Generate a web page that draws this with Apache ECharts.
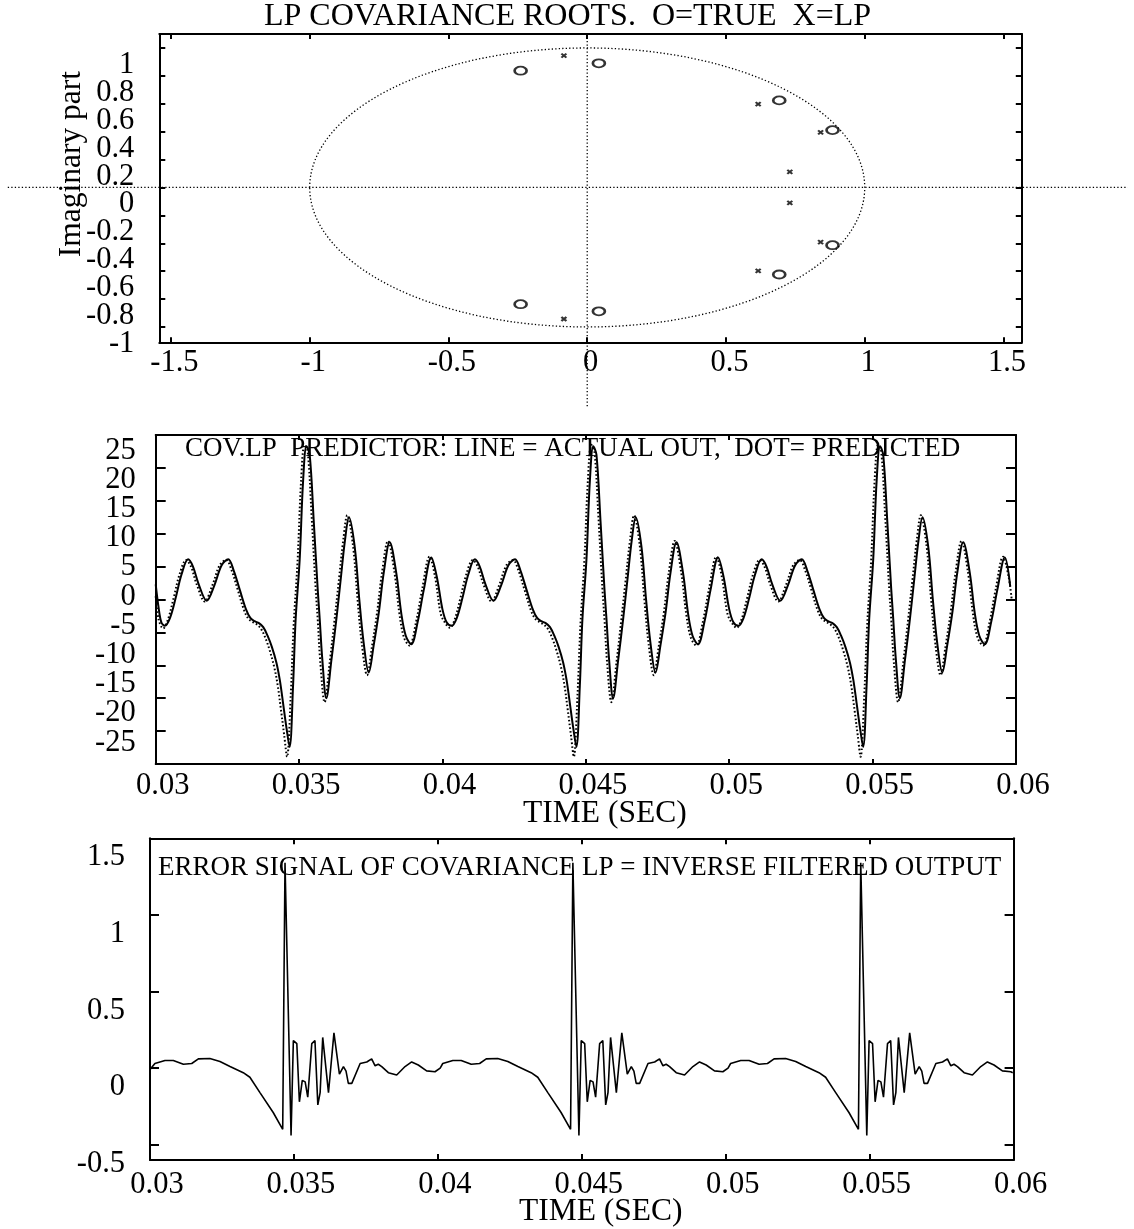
<!DOCTYPE html>
<html><head><meta charset="utf-8">
<script src="https://cdn.jsdelivr.net/npm/echarts@6/dist/echarts.min.js"></script>
<style>html,body{margin:0;padding:0;background:#fff}#c{width:1134px;height:1229px}</style>
</head><body><div id="c"></div>
<script>
// ---------- data ----------
// Panel 1: roots in the complex plane
const trueRoots = [[-0.240, 0.837], [0.042, 0.890], [0.692, 0.624], [0.884, 0.411],
                   [0.884, -0.414], [0.692, -0.624], [0.042, -0.888], [-0.240, -0.837]];
const lpRoots = [[-0.084, 0.945], [0.616, 0.598], [0.841, 0.395], [0.730, 0.112],
                 [0.730, -0.110], [0.841, -0.392], [0.616, -0.598], [-0.084, -0.943]];
const unitCircle = [[0, 0, 1]];                       // centre x, centre y, radius
const zeroLines = [[-2.088, 0, 1.948, 0], [0, 1.10, 0, -1.584]];   // x1, y1, x2, y2
const rootXTicks = [-1.5, -1, -0.5, 0, 0.5, 1, 1.5];
const rootXLabels = ['-1.5', '-1', '-0.5', '0', '0.5', '1', '1.5'];
const rootYTicks = [-1, -0.8, -0.6, -0.4, -0.2, 0, 0.2, 0.4, 0.6, 0.8, 1];
const rootYLabels = ['-1', '-0.8', '-0.6', '-0.4', '-0.2', '0', '0.2', '0.4', '0.6', '0.8', '1'];

// Panel 2: actual output (line) and predicted (dots)
const actualOut = [
 [0.03000, 2.3], [0.03010, -1.2], [0.03020, -3.5], [0.03032, -4.0], [0.03050, -2.8], [0.03070, 0.3], [0.03090, 3.8], [0.03113, 6.1], [0.03130, 5.0], [0.03150, 2.3], [0.03178, -0.2], [0.03205, 2.2], [0.03230, 5.2], [0.03253, 6.1], [0.03272, 4.4], [0.03293, 1.5], [0.03315, -1.5], [0.03330, -2.8], [0.03345, -3.3], [0.03360, -3.6], [0.03375, -4.2], [0.03390, -5.5], [0.03405, -7.2], [0.03421, -9.6], [0.03433, -12.3], [0.03444, -15.7], [0.03456, -19.5], [0.03467, -22.4], [0.03479, -13.1], [0.03488, -3.0], [0.03502, 6.0], [0.03514, 18.0], [0.03526, 23.3], [0.03537, 22.0], [0.03551, 12.0], [0.03565, 1.5], [0.03572, -3.0], [0.03581, -9.1], [0.03595, -15.0], [0.03613, -9.1], [0.03630, -3.0], [0.03645, 3.0], [0.03660, 9.0], [0.03674, 12.5], [0.03694, 8.0], [0.03710, 0.0], [0.03725, -6.5], [0.03743, -11.1], [0.03760, -7.0], [0.03778, -2.0], [0.03795, 4.0], [0.03816, 8.7], [0.03839, 4.0], [0.03856, -2.0], [0.03872, -5.5], [0.03891, -6.8], [0.03914, -3.3], [0.03935, 1.5], [0.03961, 6.4], [0.03980, 3.5],
 [0.04000, -1.5], [0.04015, -3.5], [0.04032, -4.0], [0.04050, -2.8], [0.04070, 0.3], [0.04090, 3.8], [0.04113, 6.1], [0.04130, 5.0], [0.04150, 2.3], [0.04178, -0.2], [0.04205, 2.2], [0.04230, 5.2], [0.04253, 6.1], [0.04272, 4.4], [0.04293, 1.5], [0.04315, -1.5], [0.04330, -2.8], [0.04345, -3.3], [0.04360, -3.6], [0.04375, -4.2], [0.04390, -5.5], [0.04405, -7.2], [0.04421, -9.6], [0.04433, -12.3], [0.04444, -15.7], [0.04456, -19.5], [0.04467, -22.4], [0.04479, -13.1], [0.04488, -3.0], [0.04502, 6.0], [0.04514, 18.0], [0.04526, 23.3], [0.04537, 22.0], [0.04551, 12.0], [0.04565, 1.5], [0.04572, -3.0], [0.04581, -9.1], [0.04595, -15.0], [0.04613, -9.1], [0.04630, -3.0], [0.04645, 3.0], [0.04660, 9.0], [0.04674, 12.5], [0.04694, 8.0], [0.04710, 0.0], [0.04725, -6.5], [0.04743, -11.1], [0.04760, -7.0], [0.04778, -2.0], [0.04795, 4.0], [0.04816, 8.7], [0.04839, 4.0], [0.04856, -2.0], [0.04872, -5.5], [0.04891, -6.8], [0.04914, -3.3], [0.04935, 1.5], [0.04961, 6.4], [0.04980, 3.5],
 [0.05000, -1.5], [0.05015, -3.5], [0.05032, -4.0], [0.05050, -2.8], [0.05070, 0.3], [0.05090, 3.8], [0.05113, 6.1], [0.05130, 5.0], [0.05150, 2.3], [0.05178, -0.2], [0.05205, 2.2], [0.05230, 5.2], [0.05253, 6.1], [0.05272, 4.4], [0.05293, 1.5], [0.05315, -1.5], [0.05330, -2.8], [0.05345, -3.3], [0.05360, -3.6], [0.05375, -4.2], [0.05390, -5.5], [0.05405, -7.2], [0.05421, -9.6], [0.05433, -12.3], [0.05444, -15.7], [0.05456, -19.5], [0.05467, -22.4], [0.05479, -13.1], [0.05488, -3.0], [0.05502, 6.0], [0.05514, 18.0], [0.05526, 23.3], [0.05537, 22.0], [0.05551, 12.0], [0.05565, 1.5], [0.05572, -3.0], [0.05581, -9.1], [0.05595, -15.0], [0.05613, -9.1], [0.05630, -3.0], [0.05645, 3.0], [0.05660, 9.0], [0.05674, 12.5], [0.05694, 8.0], [0.05710, 0.0], [0.05725, -6.5], [0.05743, -11.1], [0.05760, -7.0], [0.05778, -2.0], [0.05795, 4.0], [0.05816, 8.7], [0.05839, 4.0], [0.05856, -2.0], [0.05872, -5.5], [0.05891, -6.8], [0.05914, -3.3], [0.05935, 1.5], [0.05961, 6.4], [0.05980, 2.0]
];
const predicted = [
 [0.03000, 0.5], [0.03010, -3.0], [0.03026, -4.4], [0.03043, -3.0], [0.03063, 0.3], [0.03083, 3.8], [0.03106, 6.0], [0.03123, 5.0], [0.03143, 2.3], [0.03171, -0.3], [0.03198, 2.2], [0.03223, 5.2], [0.03246, 6.0], [0.03265, 4.4], [0.03286, 1.5], [0.03308, -1.6], [0.03323, -2.9], [0.03338, -3.4], [0.03353, -3.8], [0.03368, -4.5], [0.03383, -5.9], [0.03398, -7.8], [0.03414, -10.4], [0.03426, -13.2], [0.03437, -16.8], [0.03448, -20.6], [0.03458, -23.9], [0.03471, -14.5], [0.03481, -4.0], [0.03495, 6.0], [0.03507, 18.0], [0.03519, 23.5], [0.03530, 22.5], [0.03544, 12.5], [0.03558, 1.5], [0.03565, -3.0], [0.03574, -9.5], [0.03589, -15.6], [0.03607, -9.5], [0.03624, -3.0], [0.03639, 3.0], [0.03654, 9.0], [0.03668, 12.8], [0.03688, 8.2], [0.03704, 0.0], [0.03719, -6.8], [0.03737, -11.5], [0.03754, -7.2], [0.03772, -2.0], [0.03789, 4.0], [0.03810, 8.9], [0.03833, 4.0], [0.03850, -2.2], [0.03866, -5.8], [0.03885, -7.0], [0.03908, -3.4], [0.03929, 1.5], [0.03955, 6.5], [0.03974, 3.5],
 [0.03994, -2.2], [0.04010, -3.6], [0.04026, -4.3], [0.04043, -3.0], [0.04063, 0.3], [0.04083, 3.8], [0.04106, 6.0], [0.04123, 5.0], [0.04143, 2.3], [0.04171, -0.3], [0.04198, 2.2], [0.04223, 5.2], [0.04246, 6.0], [0.04265, 4.4], [0.04286, 1.5], [0.04308, -1.6], [0.04323, -2.9], [0.04338, -3.4], [0.04353, -3.8], [0.04368, -4.5], [0.04383, -5.9], [0.04398, -7.8], [0.04414, -10.4], [0.04426, -13.2], [0.04437, -16.8], [0.04448, -20.6], [0.04458, -23.9], [0.04471, -14.5], [0.04481, -4.0], [0.04495, 6.0], [0.04507, 18.0], [0.04519, 23.5], [0.04530, 22.5], [0.04544, 12.5], [0.04558, 1.5], [0.04565, -3.0], [0.04574, -9.5], [0.04589, -15.6], [0.04607, -9.5], [0.04624, -3.0], [0.04639, 3.0], [0.04654, 9.0], [0.04668, 12.8], [0.04688, 8.2], [0.04704, 0.0], [0.04719, -6.8], [0.04737, -11.5], [0.04754, -7.2], [0.04772, -2.0], [0.04789, 4.0], [0.04810, 8.9], [0.04833, 4.0], [0.04850, -2.2], [0.04866, -5.8], [0.04885, -7.0], [0.04908, -3.4], [0.04929, 1.5], [0.04955, 6.5], [0.04974, 3.5],
 [0.04994, -2.2], [0.05010, -3.6], [0.05026, -4.3], [0.05043, -3.0], [0.05063, 0.3], [0.05083, 3.8], [0.05106, 6.0], [0.05123, 5.0], [0.05143, 2.3], [0.05171, -0.3], [0.05198, 2.2], [0.05223, 5.2], [0.05246, 6.0], [0.05265, 4.4], [0.05286, 1.5], [0.05308, -1.6], [0.05323, -2.9], [0.05338, -3.4], [0.05353, -3.8], [0.05368, -4.5], [0.05383, -5.9], [0.05398, -7.8], [0.05414, -10.4], [0.05426, -13.2], [0.05437, -16.8], [0.05448, -20.6], [0.05458, -23.9], [0.05471, -14.5], [0.05481, -4.0], [0.05495, 6.0], [0.05507, 18.0], [0.05519, 23.5], [0.05530, 22.5], [0.05544, 12.5], [0.05558, 1.5], [0.05565, -3.0], [0.05574, -9.5], [0.05589, -15.6], [0.05607, -9.5], [0.05624, -3.0], [0.05639, 3.0], [0.05654, 9.0], [0.05668, 12.8], [0.05688, 8.2], [0.05704, 0.0], [0.05719, -6.8], [0.05737, -11.5], [0.05754, -7.2], [0.05772, -2.0], [0.05789, 4.0], [0.05810, 8.9], [0.05833, 4.0], [0.05850, -2.2], [0.05866, -5.8], [0.05885, -7.0], [0.05908, -3.4], [0.05929, 1.5], [0.05955, 6.5], [0.05974, 3.5], [0.05985, 0.0]
];
const timeTicks = [0.03, 0.035, 0.04, 0.045, 0.05, 0.055, 0.06];
const timeLabels = ['0.03', '0.035', '0.04', '0.045', '0.05', '0.055', '0.06'];
const outYTicks = [-25, -20, -15, -10, -5, 0, 5, 10, 15, 20, 25];
const outYLabels = ['-25', '-20', '-15', '-10', '-5', '0', '5', '10', '15', '20', '25'];

// Panel 3: error signal
const errorSignal = [
 [0.03000, -0.01], [0.03017, 0.03], [0.03052, 0.05], [0.03081, 0.05], [0.03116, 0.025], [0.03145, 0.03], [0.03168, 0.06], [0.03208, 0.063], [0.03243, 0.043], [0.03278, 0.01], [0.03324, -0.03], [0.03347, -0.06], [0.03382, -0.16], [0.03428, -0.29], [0.03461, -0.40], [0.03469, 1.34], [0.03490, -0.44], [0.03498, 0.18], [0.03510, 0.16], [0.03519, -0.22], [0.03529, -0.08], [0.03539, -0.09], [0.03548, -0.19], [0.03562, 0.16], [0.03573, 0.18], [0.03583, -0.24], [0.03591, -0.16], [0.03600, 0.20], [0.03620, -0.16], [0.03639, 0.23], [0.03658, -0.04], [0.03672, 0.01], [0.03681, -0.02], [0.03689, -0.10], [0.03701, -0.10], [0.03730, 0.03], [0.03753, 0.04], [0.03770, 0.06], [0.03782, 0.015], [0.03793, 0.025], [0.03805, 0.01], [0.03828, -0.03], [0.03857, -0.045], [0.03886, 0.01], [0.03909, 0.04], [0.03932, 0.02], [0.03961, -0.018], [0.03990, -0.024],
 [0.04008, 0.0], [0.04017, 0.03], [0.04052, 0.05], [0.04081, 0.05], [0.04116, 0.025], [0.04145, 0.03], [0.04168, 0.06], [0.04208, 0.063], [0.04243, 0.043], [0.04278, 0.01], [0.04324, -0.03], [0.04347, -0.06], [0.04382, -0.16], [0.04428, -0.29], [0.04461, -0.40], [0.04469, 1.34], [0.04490, -0.44], [0.04498, 0.18], [0.04510, 0.16], [0.04519, -0.22], [0.04529, -0.08], [0.04539, -0.09], [0.04548, -0.19], [0.04562, 0.16], [0.04573, 0.18], [0.04583, -0.24], [0.04591, -0.16], [0.04600, 0.20], [0.04620, -0.16], [0.04639, 0.23], [0.04658, -0.04], [0.04672, 0.01], [0.04681, -0.02], [0.04689, -0.10], [0.04701, -0.10], [0.04730, 0.03], [0.04753, 0.04], [0.04770, 0.06], [0.04782, 0.015], [0.04793, 0.025], [0.04805, 0.01], [0.04828, -0.03], [0.04857, -0.045], [0.04886, 0.01], [0.04909, 0.04], [0.04932, 0.02], [0.04961, -0.018], [0.04990, -0.024],
 [0.05008, 0.0], [0.05017, 0.03], [0.05052, 0.05], [0.05081, 0.05], [0.05116, 0.025], [0.05145, 0.03], [0.05168, 0.06], [0.05208, 0.063], [0.05243, 0.043], [0.05278, 0.01], [0.05324, -0.03], [0.05347, -0.06], [0.05382, -0.16], [0.05428, -0.29], [0.05461, -0.40], [0.05469, 1.34], [0.05490, -0.44], [0.05498, 0.18], [0.05510, 0.16], [0.05519, -0.22], [0.05529, -0.08], [0.05539, -0.09], [0.05548, -0.19], [0.05562, 0.16], [0.05573, 0.18], [0.05583, -0.24], [0.05591, -0.16], [0.05600, 0.20], [0.05620, -0.16], [0.05639, 0.23], [0.05658, -0.04], [0.05672, 0.01], [0.05681, -0.02], [0.05689, -0.10], [0.05701, -0.10], [0.05730, 0.03], [0.05753, 0.04], [0.05770, 0.06], [0.05782, 0.015], [0.05793, 0.025], [0.05805, 0.01], [0.05828, -0.03], [0.05857, -0.045], [0.05886, 0.01], [0.05909, 0.04], [0.05932, 0.02], [0.05961, -0.018], [0.05990, -0.024], [0.05997, -0.03]
];
const errYTicks = [-0.5, 0, 0.5, 1];
const errYLabelVals = [-0.5, 0, 0.5, 1, 1.5];
const errYLabels = ['-0.5', '0', '0.5', '1', '1.5'];

// ---------- styling ----------
const INK = '#000';
const FONT = 'Liberation Serif';
const TICKFS = 30.5;
function fmt(vals, labels) {
  return function (v) {
    let best = 0, d = Infinity;
    vals.forEach((t, i) => { const e = Math.abs(t - v); if (e < d) { d = e; best = i; } });
    return labels[best];
  };
}
// alternate labels go on two label axes so that neighbours never collide
const evens = a => a.filter((_, i) => i % 2 === 0);
const odds = a => a.filter((_, i) => i % 2 === 1);
const lineSt = { color: INK, width: 2 };
function frameAxis(gridIndex, position, min, max, ticks, tickLen, extra) {
  return Object.assign({
    type: 'value', gridIndex, position, min, max,
    nameMoveOverlap: false,
    axisLine: { show: true, onZero: false, lineStyle: lineSt },
    axisTick: { show: true, inside: true, length: tickLen, customValues: ticks, lineStyle: lineSt },
    axisLabel: { show: false },
    splitLine: { show: false }
  }, extra || {});
}
function labelStyle(vals, allVals, labels, extra) {
  return Object.assign({
    show: true, customValues: vals, formatter: fmt(allVals, labels),
    showMinLabel: true, showMaxLabel: true, hideOverlap: false,
    color: INK, fontFamily: FONT, fontSize: TICKFS
  }, extra);
}
function labelOnlyAxis(gridIndex, min, max, vals, allVals, labels, extra) {
  return { type: 'value', gridIndex, position: 'left', min, max, nameMoveOverlap: false,
    axisLine: { show: false }, axisTick: { show: false }, splitLine: { show: false },
    axisLabel: labelStyle(vals, allVals, labels, extra) };
}
const nameStyle = { color: INK, fontFamily: FONT, fontSize: 31.5 };
const dotted = [1.3, 2.2];

const G0 = { left: 159.3, top: 34, width: 862.5, height: 308.3 };
const G1 = { left: 155.7, top: 435, width: 860.3, height: 329 };
const G2 = { left: 150, top: 838.3, width: 863.6, height: 322.7 };
const G3 = { left: 155.7, top: 450.5, width: 860.3, height: 292 };

const rootLab = { margin: 25, verticalAlign: 'top', lineHeight: 22, padding: [6, 0, 0, 0] };
const outLab = { margin: 20, verticalAlign: 'middle' };

const option = {
  backgroundColor: '#fff',
  animation: false,
  textStyle: { fontFamily: FONT },
  title: [
    { text: 'LP COVARIANCE ROOTS.  O=TRUE  X=LP', left: 264, top: 1, padding: 0,
      textStyle: { color: INK, fontFamily: FONT, fontSize: 32, fontWeight: 'normal' } },
    { text: 'COV.LP  PREDICTOR: LINE = ACTUAL OUT,  DOT= PREDICTED', left: 185, top: 435, padding: 0,
      textStyle: { color: INK, fontFamily: FONT, fontSize: 27, fontWeight: 'normal' } },
    { text: 'ERROR SIGNAL OF COVARIANCE LP = INVERSE FILTERED OUTPUT', left: 158, top: 854, padding: 0,
      textStyle: { color: INK, fontFamily: FONT, fontSize: 27, fontWeight: 'normal' } }
  ],
  grid: [G0, G1, G2, G3],
  xAxis: [
    frameAxis(0, 'bottom', -1.542, 1.566, rootXTicks, 5,
      { axisLabel: labelStyle(rootXTicks, rootXTicks, rootXLabels, { margin: 21, verticalAlign: 'middle', padding: [0, 0, 0, 7] }) }),
    frameAxis(0, 'top', -1.542, 1.566, rootXTicks, 5),
    frameAxis(1, 'bottom', 0.03, 0.06, timeTicks, 5,
      { axisLabel: labelStyle(timeTicks, timeTicks, timeLabels, { margin: 22, verticalAlign: 'middle', padding: [0, 0, 0, 14] }),
        name: 'TIME (SEC)', nameLocation: 'middle', nameGap: 34,
        nameTextStyle: Object.assign({ padding: [0, 0, 0, 38] }, nameStyle) }),
    frameAxis(1, 'top', 0.03, 0.06, timeTicks, 5),
    frameAxis(2, 'bottom', 0.03, 0.06, timeTicks, 6,
      { axisLabel: labelStyle(timeTicks, timeTicks, timeLabels, { margin: 25, verticalAlign: 'middle', padding: [0, 0, 0, 14] }),
        name: 'TIME (SEC)', nameLocation: 'middle', nameGap: 36,
        nameTextStyle: Object.assign({ padding: [0, 0, 0, 38] }, nameStyle) }),
    frameAxis(2, 'top', 0.03, 0.06, timeTicks, 6),
    { type: 'value', gridIndex: 3, min: 0, max: 1, show: false }
  ],
  yAxis: [
    frameAxis(0, 'left', -1.11, 1.10, rootYTicks, 6,
      { axisLabel: labelStyle(evens(rootYTicks), rootYTicks, rootYLabels, rootLab),
        name: 'Imaginary part', nameLocation: 'middle', nameGap: 72, nameRotate: 90,
        nameTextStyle: Object.assign({ padding: [0, 0, 0, 48] }, nameStyle) }),
    frameAxis(0, 'right', -1.11, 1.10, rootYTicks, 6),
    frameAxis(1, 'left', -25, 25, outYTicks, 10),
    frameAxis(1, 'right', -25, 25, outYTicks, 10),
    frameAxis(2, 'left', -0.6, 1.5, errYTicks, 9,
      { axisLabel: labelStyle(errYLabelVals, errYLabelVals, errYLabels, { margin: 25, verticalAlign: 'top', lineHeight: 22, padding: [8, 0, 0, 0] }) }),
    frameAxis(2, 'right', -0.6, 1.5, errYTicks, 9),
    labelOnlyAxis(3, -25, 25, evens(outYTicks), outYTicks, outYLabels, outLab),
    labelOnlyAxis(3, -25, 25, odds(outYTicks), outYTicks, outYLabels, outLab),
    labelOnlyAxis(0, -1.11, 1.10, odds(rootYTicks), rootYTicks, rootYLabels, rootLab)
  ],
  series: [
    { type: 'custom', xAxisIndex: 0, yAxisIndex: 0, data: zeroLines, silent: true, clip: false,
      renderItem: function (params, api) {
        const p1 = api.coord([api.value(0), api.value(1)]);
        const p2 = api.coord([api.value(2), api.value(3)]);
        return { type: 'line', shape: { x1: p1[0], y1: p1[1], x2: p2[0], y2: p2[1] },
                 style: { stroke: INK, lineWidth: 1.3, lineDash: dotted } };
      } },
    { type: 'custom', xAxisIndex: 0, yAxisIndex: 0, data: unitCircle, silent: true, clip: false,
      renderItem: function (params, api) {
        const c = api.coord([api.value(0), api.value(1)]);
        const s = api.size([api.value(2), api.value(2)]);
        return { type: 'ellipse', shape: { cx: c[0], cy: c[1], rx: s[0], ry: s[1] },
                 style: { fill: 'none', stroke: INK, lineWidth: 1.3, lineDash: dotted } };
      } },
    { type: 'scatter', xAxisIndex: 0, yAxisIndex: 0, data: trueRoots, silent: true,
      symbol: 'path://M0,10A10,10 0 1,1 20,10A10,10 0 1,1 0,10Z', symbolSize: [12, 8],
      itemStyle: { color: 'rgba(0,0,0,0)', borderColor: INK, borderWidth: 2.2 } },
    { type: 'scatter', xAxisIndex: 0, yAxisIndex: 0, data: lpRoots, silent: true,
      symbol: 'path://M0,0L10,10M10,0L0,10', symbolSize: [5, 4],
      itemStyle: { color: 'rgba(0,0,0,0)', borderColor: INK, borderWidth: 2 } },
    { type: 'line', xAxisIndex: 2, yAxisIndex: 2, data: actualOut, smooth: 0.35, symbol: 'none', silent: true,
      lineStyle: { color: INK, width: 2 } },
    { type: 'line', xAxisIndex: 2, yAxisIndex: 2, data: predicted, smooth: 0.35, symbol: 'none', silent: true,
      lineStyle: { color: INK, width: 2, type: [1.6, 2.2] } },
    { type: 'line', xAxisIndex: 4, yAxisIndex: 4, data: errorSignal, symbol: 'none', silent: true,
      lineStyle: { color: INK, width: 1.6 } }
  ]
};
const chart = echarts.init(document.getElementById('c'), null, { renderer: 'canvas' });
chart.setOption(option);
</script></body></html>
